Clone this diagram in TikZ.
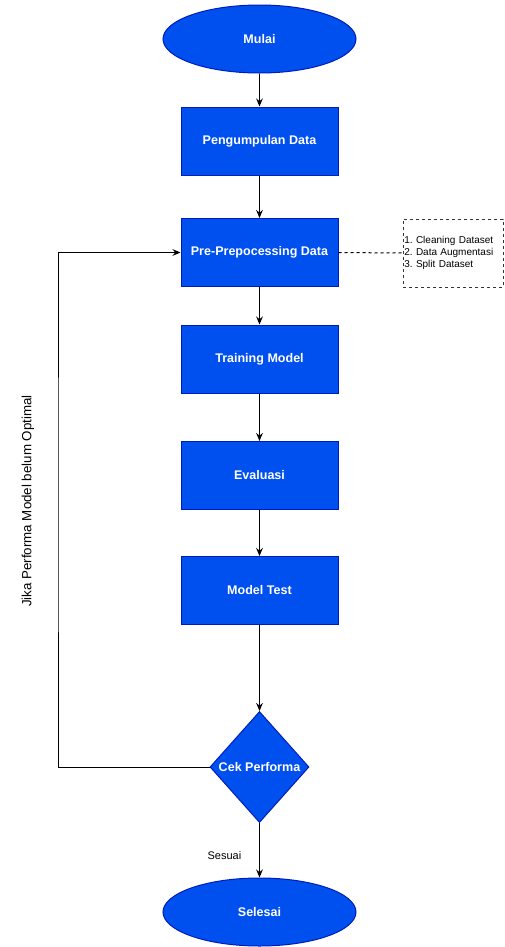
\documentclass[tikz,border=0pt]{standalone}
\usepackage{fontspec}
\setmainfont{Liberation Sans}
\usepackage{tikz}
\usetikzlibrary{shapes.geometric,arrows.meta}
\definecolor{biru}{HTML}{0050EF}
\definecolor{birutua}{HTML}{001DBC}
\frenchspacing

\begin{document}
\begin{tikzpicture}[x=0.75pt,y=-0.75pt,
	proses/.style={rectangle,draw=birutua,fill=biru,text=white,line width=0.75pt,
		font=\fontsize{9.4}{11}\selectfont\bfseries,minimum width=117.75pt,minimum height=51pt},
	terminal/.style={proses,ellipse,minimum width=144.75pt},
	keputusan/.style={proses,diamond,inner sep=0pt,minimum width=74.25pt,minimum height=83.25pt},
	catatan/.style={draw=black!80,line width=0.6pt,dash pattern=on 2.25pt off 2.25pt,
		minimum width=75pt,minimum height=51pt,text width=73pt,inner sep=1pt,align=left,
		font=\fontsize{7.5}{9}\selectfont},
	panah/.style={-{Stealth[length=6pt,width=5pt]},line width=0.75pt}]
					\useasboundingbox (0,0) rectangle (504,947);
					\node[terminal] (mulai) at (259.5,39) {Mulai};
					\node[proses] (kumpul) at (259.5,141) {Pengumpulan Data};
					\node[proses] (prep) at (259.5,252.5) {Pre-Prepocessing Data};
					\node[proses] (train) at (259.5,359) {Training Model};
					\node[proses] (eval) at (259.5,475.5) {Evaluasi};
					\node[proses] (test) at (259.5,590.5) {Model Test};
					\node[keputusan] (cek) at (259.5,767) {\makebox[0pt]{Cek Performa}};
					\node[terminal] (selesai) at (259.5,912) {Selesai};
					\node[catatan] (catat) at (453,253) {1. Cleaning Dataset\\2. Data Augmentasi\\3. Split Dataset};
					\coordinate (kiri) at (58,500);
					\node[rotate=90,font=\fontsize{10}{12}\selectfont] (jika) at (28,501) {Jika Performa Model belum Optimal};
					\draw[panah] (mulai) -- (kumpul);
					\draw[panah] (kumpul) -- (prep);
					\draw[panah] (prep) -- (train);
					\draw[panah] (train) -- (eval);
					\draw[panah] (eval) -- (test);
					\draw[panah] (test) -- (cek);
					\draw[panah] (cek) -- node[pos=0.6,left=10pt,font=\fontsize{8.25}{10}\selectfont] {Sesuai} (selesai);
					\draw[panah] (cek.west) -| (kiri) |- (prep.west);
					\draw[line width=0.75pt,dash pattern=on 2.25pt off 2.25pt] (prep.east) -- (catat.west);
				\end{tikzpicture}
\end{document}
